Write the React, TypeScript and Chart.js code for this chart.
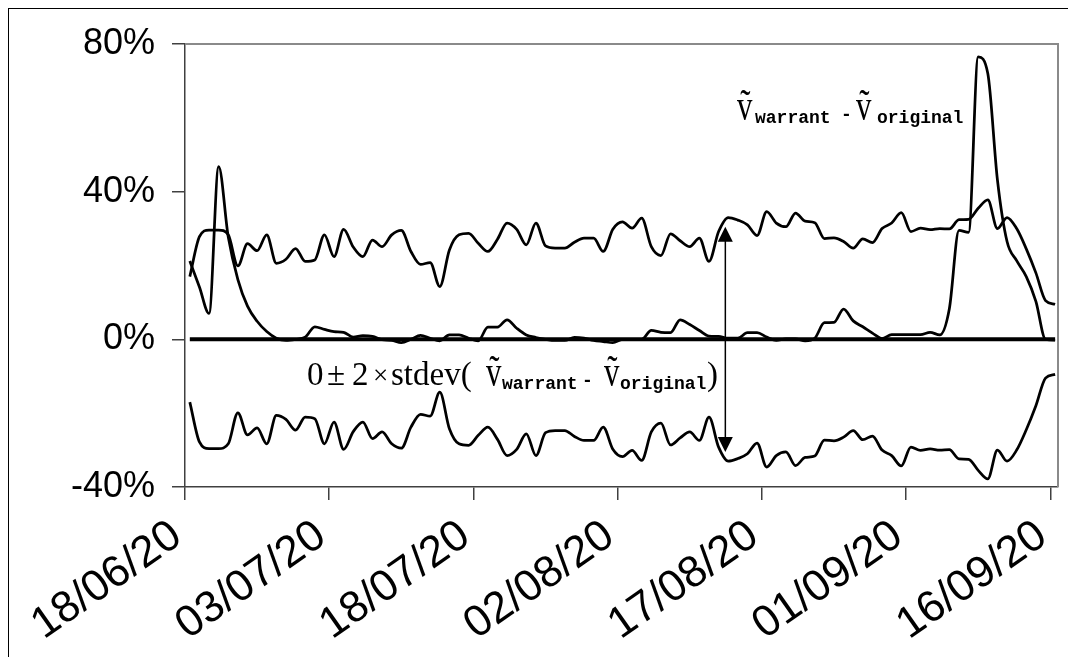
import React, { useEffect, useRef } from 'react';
import { Chart, registerables } from 'chart.js';

Chart.register(...registerables);

// ---- data (percent) ----
const tickDays = [0, 15, 30, 45, 60, 75, 90];
const tickLabels = ['18/06/20', '03/07/20', '18/07/20', '02/08/20', '17/08/20', '01/09/20', '16/09/20'];
const yTicks = [-40, 0, 40, 80];

// 2 x stdev(v_warrant - v_original), one value per day from 18/06/20
const twoStdev = [
  17.0, 27.8, 29.6, 29.6, 28.3, 19.9, 25.9, 24.0, 28.3, 20.6,
  21.7, 24.6, 21.1, 21.5, 28.3, 22.4, 29.8, 25.0, 22.4, 26.9,
  25.1, 28.3, 29.5, 23.8, 20.3, 20.8, 14.3, 24.2, 28.3, 28.7,
  26.0, 23.8, 27.1, 31.5, 29.8, 25.6, 31.5, 25.3, 24.7, 24.7,
  26.3, 27.4, 27.4, 23.8, 29.8, 31.8, 30.1, 32.8, 25.1, 22.7,
  28.6, 26.7, 25.1, 27.4, 21.1, 29.2, 33.0, 32.3, 31.0, 28.1,
  34.6, 31.5, 30.5, 34.2, 32.0, 31.6, 27.3, 27.5, 26.5, 24.7,
  27.2, 26.2, 30.0, 31.5, 34.3, 29.2, 30.1, 29.7, 30.0, 29.9,
  32.4, 32.5, 35.5, 37.8, 30.0, 33.0, 30.0, 24.5, 18.0, 10.5,
  9.5,
];

// v_warrant - v_original, one value per day
const volDiff = [
  21.2, 14.2, 7.0, 46.8, 27.7, 16.2, 9.0, 4.9, 2.1, 0.3,
  -0.3, 0.0, 0.6, 3.4, 2.7, 2.1, 1.9, 0.6, 1.0, 0.8,
  -0.1, -0.3, -0.9, 0.0, 1.1, 0.3, -0.4, 1.2, 1.2, 0.3,
  -0.4, 3.3, 3.3, 5.3, 3.0, 1.2, 0.5, 0.0, -0.3, -0.3,
  0.5, 0.3, -0.3, -0.6, -0.9, 0.0, 0.0, 0.0, 2.4, 1.9,
  1.8, 5.3, 4.0, 2.4, 0.9, 0.8, 0.3, 0.3, 1.8, 1.8,
  0.6, -0.3, 0.1, 0.1, -0.4, 0.3, 4.5, 4.6, 8.2, 5.0,
  3.4, 1.7, 0.2, 1.3, 1.3, 1.3, 1.3, 1.9, 1.2, 8.3,
  29.5, 29.0, 76.5, 72.0, 43.2, 26.5, 21.3, 17.0, 10.3, 0.0,
  -0.2,
];

const arrowDay = 56.2;
const arrowLevel = 30.5;

const SERIF = '"Liberation Serif", "Times New Roman", serif';
const MONO = '"Liberation Mono", "Courier New", monospace';
const SANS = '"Liberation Sans", Arial, sans-serif';

// points sit at the centre of each day's category
const pts = (arr: number[], sign = 1) => arr.map((v, i) => ({ x: i + 0.5, y: sign * v }));

const zeroPad = (s: any) => {
  s.paddingLeft = 0;
  s.paddingRight = 0;
  s.paddingTop = 0;
  s.paddingBottom = 0;
};

const annotationPlugin = {
  id: 'annot',
  beforeDatasetsDraw(chart: any) {
    const { ctx, chartArea } = chart;
    ctx.save();
    ctx.strokeStyle = '#8a8a8a';
    ctx.lineWidth = 2;
    ctx.beginPath();
    ctx.moveTo(chartArea.left, chartArea.top);
    ctx.lineTo(chartArea.right, chartArea.top);
    ctx.lineTo(chartArea.right, chartArea.bottom);
    ctx.stroke();
    ctx.restore();
  },
  afterDatasetsDraw(chart: any) {
    const { ctx } = chart;
    const xs = chart.scales.x;
    const ys = chart.scales.y;
    ctx.save();
    // double arrow
    const ax = xs.getPixelForValue(arrowDay);
    const top = ys.getPixelForValue(arrowLevel);
    const bot = ys.getPixelForValue(-arrowLevel);
    ctx.strokeStyle = '#000';
    ctx.fillStyle = '#000';
    ctx.lineWidth = 1.5;
    ctx.beginPath();
    ctx.moveTo(ax, top + 10);
    ctx.lineTo(ax, bot - 10);
    ctx.stroke();
    const head = (tipY: number, dir: number) => {
      ctx.beginPath();
      ctx.moveTo(ax, tipY);
      ctx.lineTo(ax - 7.5, tipY + dir * 15);
      ctx.lineTo(ax + 7.5, tipY + dir * 15);
      ctx.closePath();
      ctx.fill();
    };
    head(top, 1);
    head(bot, -1);

    ctx.textAlign = 'left';
    ctx.textBaseline = 'alphabetic';
    const tok = (t: string, font: string, x: number, y: number, sx = 1) => {
      ctx.save();
      ctx.font = font;
      ctx.translate(x, y);
      ctx.scale(sx, 1);
      ctx.fillText(t, 0, 0);
      ctx.restore();
    };
    const big = `33px ${SERIF}`;
    const vt = `44px ${SERIF}`;
    const vsx = 0.7;
    const sub = `bold 18px ${MONO}`;
    // label of the difference series
    tok('\u1E7D', vt, 728, 111, vsx);
    tok('warrant', sub, 746, 114);
    tok('-', sub, 832, 111);
    tok('\u1E7D', vt, 847, 111, vsx);
    tok('original', sub, 868, 114);
    // label of the band
    tok('0', big, 298, 376);
    tok('\u00B1', big, 318, 376);
    tok('2', big, 343, 376);
    tok('\u00D7', `27px ${SERIF}`, 364, 375);
    tok('stdev(', big, 382, 376);
    tok('\u1E7D', vt, 477, 377, vsx);
    tok('warrant', sub, 493, 380);
    tok('-', sub, 573, 377);
    tok('\u1E7D', vt, 595, 377, vsx);
    tok('original', sub, 611, 380);
    tok(')', big, 698, 376);
    ctx.restore();
  },
};

export default function App() {
  const ref = useRef<HTMLCanvasElement | null>(null);
  useEffect(() => {
    if (!ref.current) return;
    const chart = new Chart(ref.current, {
      type: 'line',
      data: {
        datasets: [
          { data: pts(twoStdev), borderColor: '#000', borderWidth: 2.75, cubicInterpolationMode: 'monotone' },
          { data: pts(twoStdev, -1), borderColor: '#000', borderWidth: 2.75, cubicInterpolationMode: 'monotone' },
          { data: pts(volDiff), borderColor: '#000', borderWidth: 2.75, cubicInterpolationMode: 'monotone' },
          { data: pts(volDiff.map(() => 0)), borderColor: '#000', borderWidth: 4 },
        ],
      } as any,
      options: {
        animation: false,
        responsive: false,
        events: [],
        parsing: false as any,
        layout: { padding: { left: 0, right: 10, top: 35, bottom: 0 } },
        plugins: { legend: { display: false }, tooltip: { enabled: false } },
        elements: { point: { radius: 0 } },
        scales: {
          x: {
            type: 'linear',
            min: 0,
            max: 90.8,
            afterBuildTicks: (s: any) => { s.ticks = tickDays.map((v) => ({ value: v })); },
            afterFit: (s: any) => { s.height = 172; zeroPad(s); },
            ticks: {
              autoSkip: false,
              minRotation: 35,
              maxRotation: 35,
              padding: 10,
              labelOffset: -8,
              color: '#000',
              font: { family: SANS, size: 44 },
              callback: (_v: any, i: number) => tickLabels[i],
            },
            grid: { drawOnChartArea: false, tickLength: 13, color: '#404040', lineWidth: 1.5 },
            border: { display: true, color: '#404040', width: 1.5 },
          },
          y: {
            min: -40,
            max: 80,
            afterBuildTicks: (s: any) => { s.ticks = yTicks.map((v) => ({ value: v })); },
            afterFit: (s: any) => { s.width = 176; zeroPad(s); },
            ticks: {
              padding: 17,
              color: '#000',
              font: { family: SANS, size: 36 },
              callback: (v: any) => `${v}%`,
            },
            grid: { drawOnChartArea: false, tickLength: 13, color: '#404040', lineWidth: 1.5 },
            border: { display: true, color: '#404040', width: 1.5 },
          },
        },
      } as any,
      plugins: [annotationPlugin],
    });
    return () => chart.destroy();
  }, []);
  return (
    <>
      <style>{'html,body{overflow:hidden}'}</style>
      <div style={{ borderLeft: '1px solid #000', borderTop: '1px solid #000', width: 1060, height: 660 }}>
        <canvas ref={ref} width={1059} height={650} style={{ display: 'block' }} />
      </div>
    </>
  );
}
